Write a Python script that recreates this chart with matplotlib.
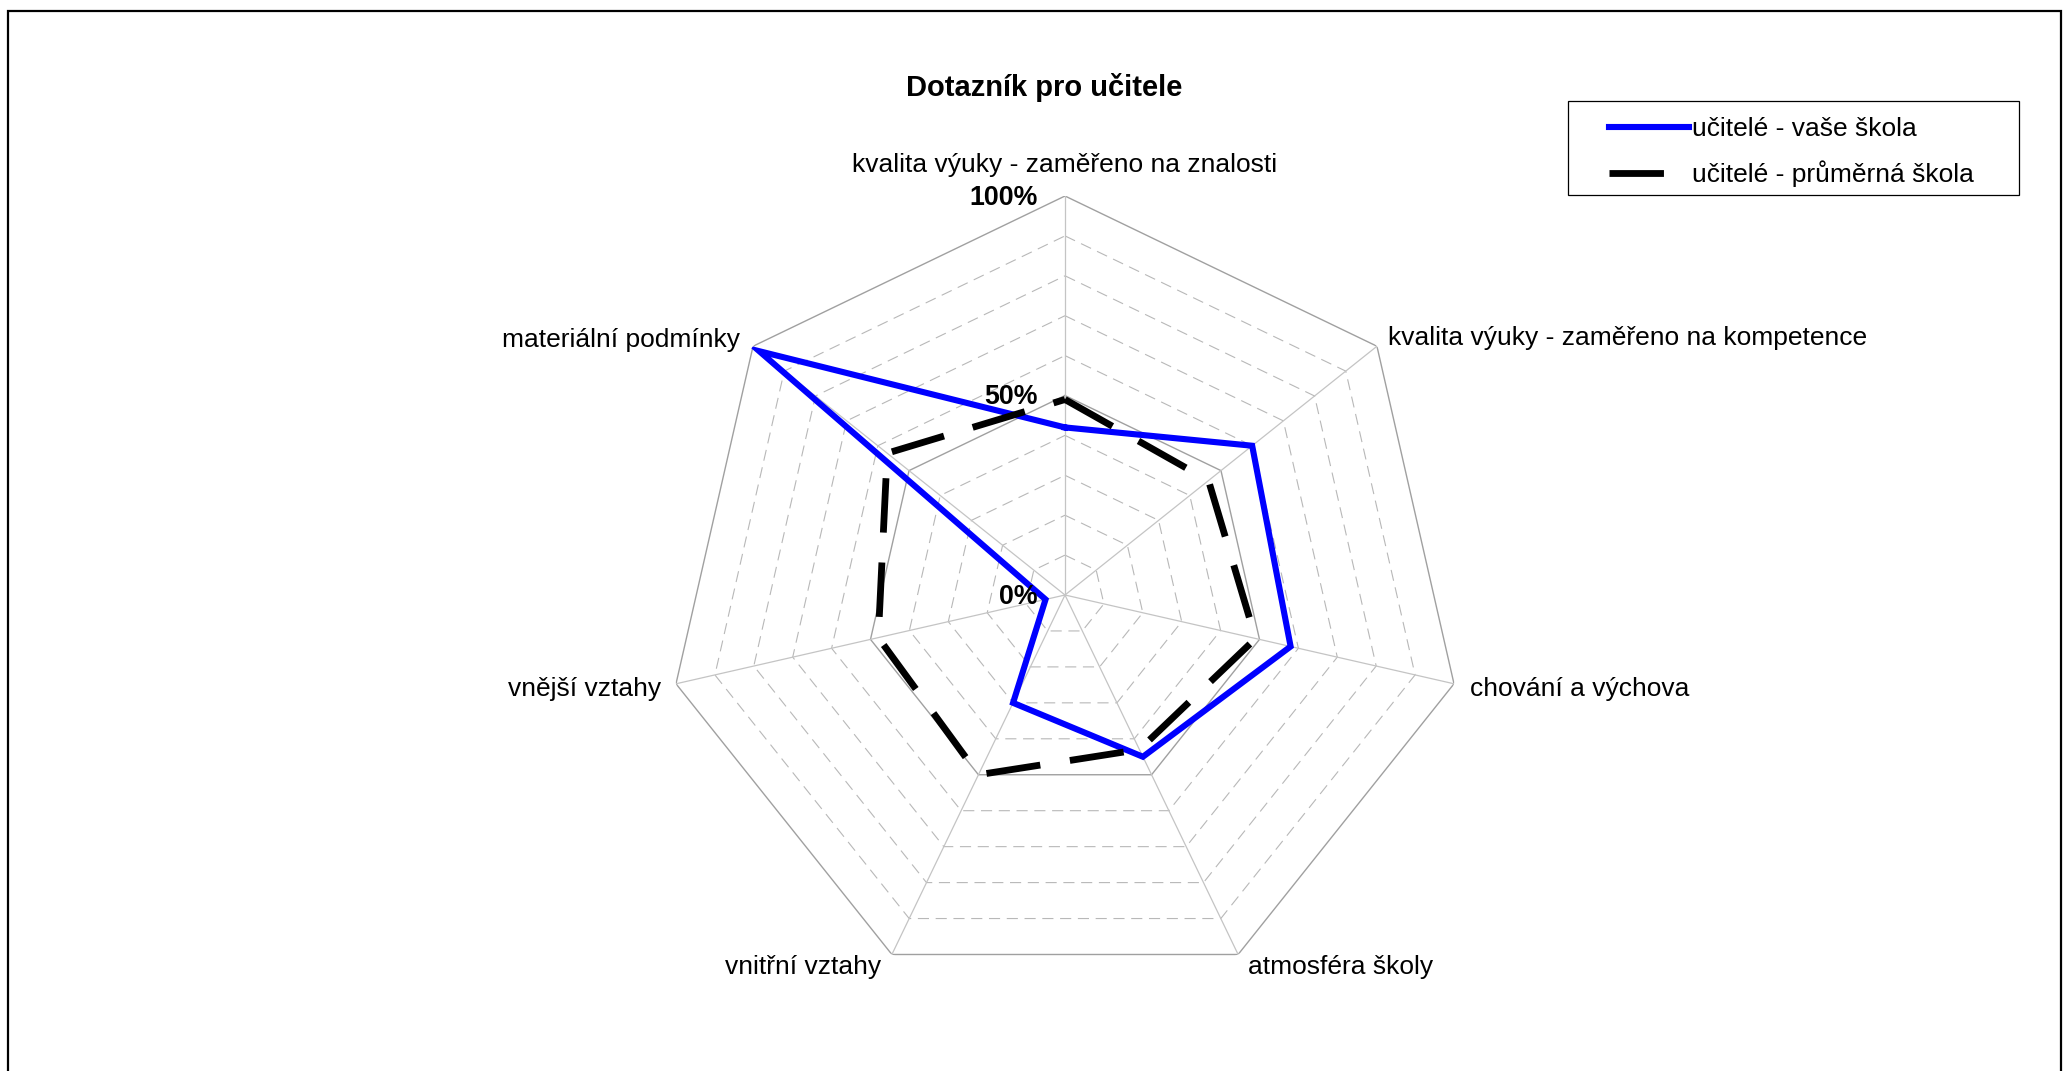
import numpy as np
import matplotlib.pyplot as plt
from matplotlib.patches import Rectangle

# data (percent)
categories = ['kvalita výuky - zaměřeno na znalosti',
              'kvalita výuky - zaměřeno na kompetence',
              'chování a výchova',
              'atmosféra školy',
              'vnitřní vztahy',
              'vnější vztahy',
              'materiální podmínky']
vase_skola = [42, 60, 58, 45, 30, 5, 98]
prumerna_skola = [49, 46, 49, 43, 50, 48, 57]
series_names = ['učitelé - vaše škola', 'učitelé - průměrná škola']
grid_levels = [10, 20, 30, 40, 50, 60, 70, 80, 90, 100]
r_tick_values = [0, 50, 100]
r_tick_labels = ['0%', '50%', '100%']

plt.rcParams['font.family'] = ['Liberation Sans', 'DejaVu Sans']

W, H = 2064, 1071
fig = plt.figure(figsize=(W / 100, H / 100), dpi=100)

# polar axes centred on (1065, 595) px, radius 399 px
cx, cy, rad = 1065, 595, 399
ax = fig.add_axes([(cx - rad) / W, (H - cy - rad) / H, 2 * rad / W, 2 * rad / H],
                  projection='polar')
ax.set_theta_zero_location('N')
ax.set_theta_direction(-1)
ax.set_ylim(0, 100)
ax.grid(False)
ax.set_xticks([])
ax.set_yticks([])
ax.spines['polar'].set_visible(False)
ax.patch.set_visible(False)

n = len(categories)
angles = np.arange(n) * 2 * np.pi / n
closed = np.append(angles, angles[0])

# heptagon grid
for lev in grid_levels:
    if lev in (50, 100):
        ax.plot(closed, [lev] * (n + 1), color='#a0a0a0', lw=1.0, zorder=1)
    else:
        ax.plot(closed, [lev] * (n + 1), color='#b8b8b8', lw=0.8,
                ls=(0, (10, 6)), zorder=1)
for a in angles:
    ax.plot([a, a], [0, 100], color='#c4c4c4', lw=0.9, zorder=1)

# series
ax.plot(closed, vase_skola + vase_skola[:1], color='#0000ff', lw=4.4,
        solid_joinstyle='miter', zorder=3, label=series_names[0])
ax.plot(closed, prumerna_skola + prumerna_skola[:1], color='black', lw=4.9,
        ls=(0, (8.0, 4.4)), dash_capstyle='butt', zorder=4,
        label=series_names[1])

# category labels
offsets = [(0, 31, 'center'), (11, 8, 'left'), (16, -5, 'left'),
           (10, -13, 'left'), (-11, -13, 'right'), (-15, -5, 'right'),
           (-13, 6, 'right')]
for a, lab, (dx, dy, ha) in zip(angles, categories, offsets):
    ax.annotate(lab, xy=(a, 100), xytext=(dx, dy), textcoords='offset pixels',
                ha=ha, va='center', fontsize=19, annotation_clip=False)

# percent labels on the top axis
for v, t in zip(r_tick_values, r_tick_labels):
    ax.annotate(t, xy=(0, v), xytext=(-27, -2), textcoords='offset pixels',
                ha='right', va='center', fontsize=19.3, fontweight='bold',
                annotation_clip=False, zorder=5)

fig.text(1044.5 / W, 1 - 87 / H, 'Dotazník pro učitele', ha='center',
         va='center', fontsize=21, fontweight='bold')

# legend box and entries
fig.patches.append(Rectangle((1568 / W, 1 - 195 / H), 451 / W, 94 / H,
                             transform=fig.transFigure, fill=False,
                             ec='black', lw=0.9))
leg = fig.legend(loc='center left', bbox_to_anchor=(1609 / W, 1 - 152 / H),
                 frameon=False, fontsize=19, handlelength=3.05,
                 handletextpad=0.1, labelspacing=0.75, borderpad=0,
                 borderaxespad=0)

# outer border of the chart area
fig.patches.append(Rectangle((8 / W, -0.05), (2061 - 8) / W, 1.05 - 11 / H,
                             transform=fig.transFigure, fill=False,
                             ec='black', lw=1.6))

fig.savefig('out.png', dpi=100)
